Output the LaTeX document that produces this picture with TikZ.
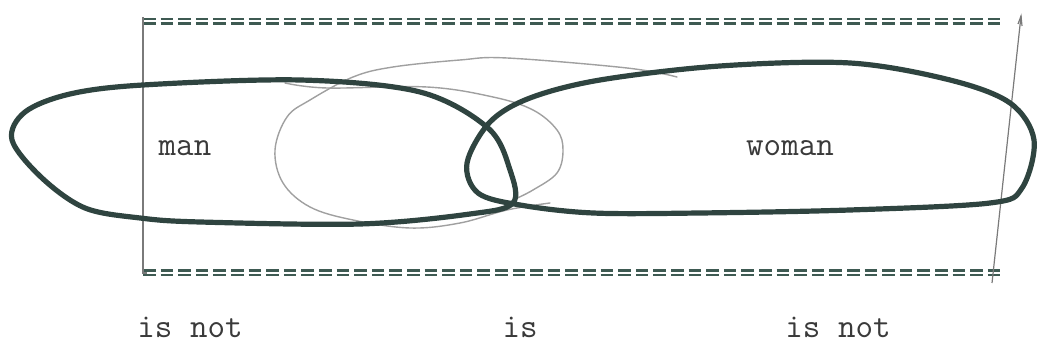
\documentclass[tikz,border=0pt]{standalone}
\usepackage{fontspec}
\begin{document}
\begin{tikzpicture}[x=0.5pt,y=-0.5pt,
  thick loop/.style={draw=loopcol,line width=2.6pt,line join=round,line cap=round},
  thin loop/.style={draw=graycol,line width=0.7pt,line cap=round},
  frame/.style={draw=framecol,line width=0.6pt},
  eqline/.style={draw=eqcol,line width=1.2pt,dash pattern=on 6.3pt off 2.5pt},
  lbl/.style={text=txtcol,font=\ttfamily\fontsize{17}{19}\selectfont,inner sep=0pt}]
\definecolor{loopcol}{HTML}{2F4440}
\definecolor{graycol}{HTML}{A0A0A0}
\definecolor{framecol}{HTML}{7A7A7A}
\definecolor{eqcol}{HTML}{3E5A52}
\definecolor{txtcol}{HTML}{3A3A3A}
\useasboundingbox (0,0) rectangle (1037,346);
% frame
\draw[eqline] (143,19) -- (1005,19);
\draw[eqline] (143,23.5) -- (1005,23.5);
\draw[eqline] (143,270.5) -- (1005,270.5);
\draw[eqline] (143,275) -- (1005,275);
\draw[frame] (143,17) -- (143,273) -- (147,273);
\draw[frame] (1021,16) -- (992,283);
\draw[frame] (1018,24) -- (1021,16) -- (1022,26);
% gray loop
\draw[thin loop] plot[smooth,tension=0.6] coordinates {(677,77) (627,68) (507,58) (460,60) (393,67) (353,77) (310,100) (287,117) (275,150) (283,183) (310,207) (353,220) (410,228) (460,223) (507,210) (550,203)};
\draw[thin loop] plot[smooth,tension=0.6] coordinates {(285,83) (327,88) (427,87) (493,97) (533,110) (557,130) (563,150) (557,173) (533,190) (513,200)};
% man
\draw[thick loop] plot[smooth cycle,tension=0.55] coordinates {(143,85) (300,80) (420,92) (488,128) (510,170) (513,203) (470,214) (360,224) (200,222) (140,218) (85,208) (42,178) (12,140) (25,112) (70,94)};
% woman
\draw[thick loop] plot[smooth cycle,tension=0.55] coordinates {(467,163) (490,122) (530,98) (600,80) (720,66) (850,63) (950,80) (1010,103) (1034,140) (1022,188) (990,203) (850,210) (700,213) (593,213) (520,205) (478,193)};
% labels
\node[lbl] (man) at (185,148) {man};
\node[lbl] (woman) at (790,148) {woman};
\node[lbl] (isnotL) at (190,327) {is not};
\node[lbl] (is) at (520,327) {is};
\node[lbl] (isnotR) at (838,327) {is not};
\end{tikzpicture}
\end{document}
